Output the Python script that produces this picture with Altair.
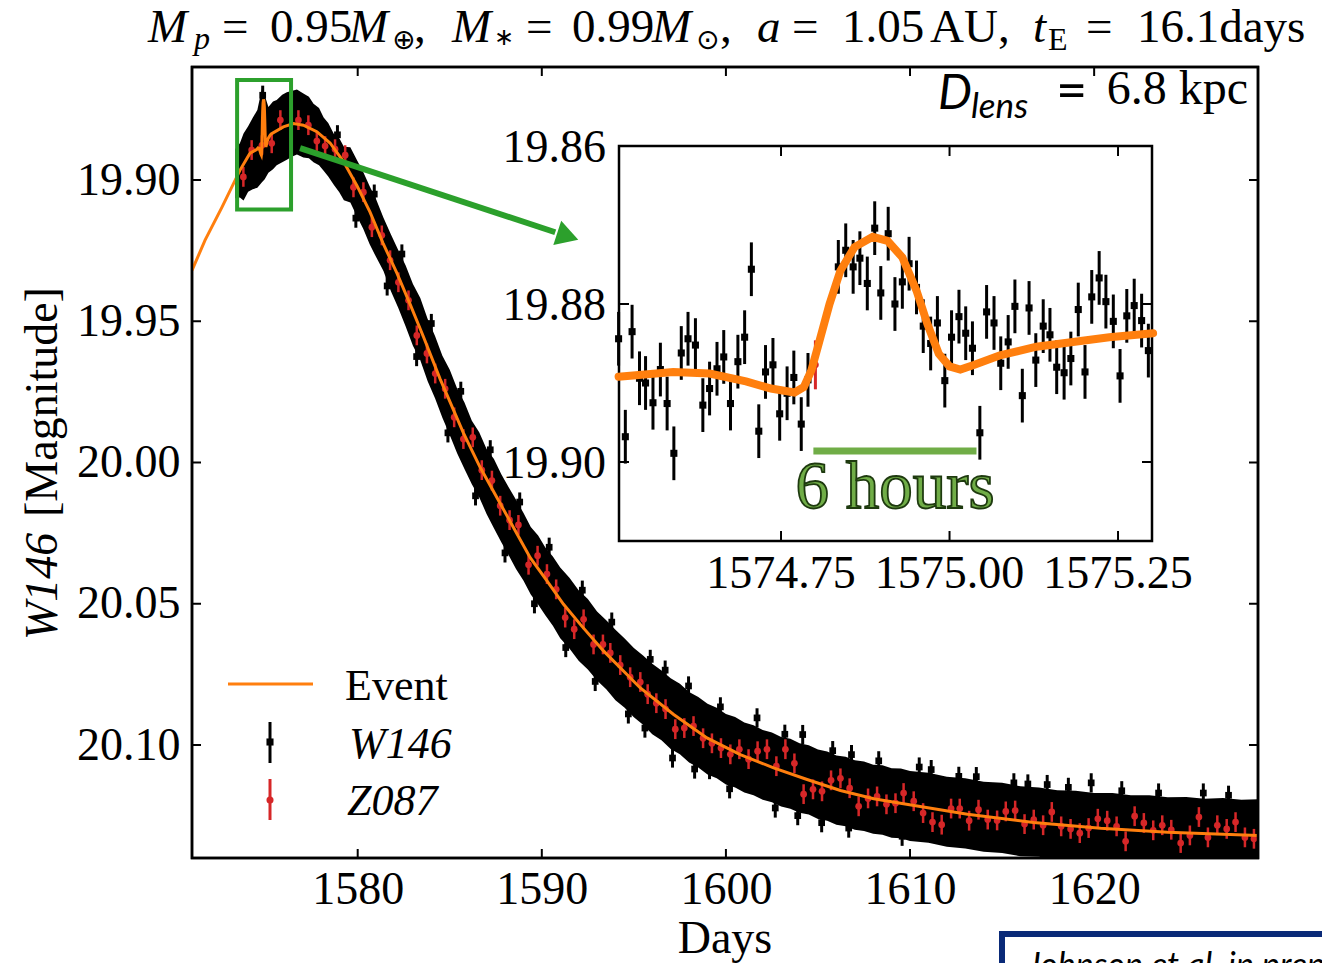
import altair as alt
import pandas as pd

# ---------------- values ----------------
# model light curve ("Event")
model_day = [1571.00, 1571.71, 1572.63, 1573.61, 1574.15,
             1574.509, 1574.590, 1574.644, 1574.698, 1574.735, 1574.770, 1574.784, 1574.795, 1574.806,
             1574.822, 1574.838, 1574.859, 1574.886, 1574.908, 1574.930, 1574.951, 1574.967, 1574.984,
             1575.000, 1575.016, 1575.037, 1575.075, 1575.129, 1575.183, 1575.237, 1575.302,
             1575.96, 1576.51, 1577.05, 1577.78, 1578.50, 1579.22, 1579.96, 1580.67, 1581.38, 1582.13,
             1582.85, 1583.57, 1584.48, 1585.74, 1586.65, 1587.56, 1588.46, 1589.37, 1590.28, 1591.18,
             1592.09, 1593.35, 1595.35, 1597.16, 1598.97, 1600.78, 1602.59, 1604.41, 1606.22, 1608.03,
             1609.48, 1613.12, 1616.71, 1620.35, 1623.99, 1628.93]
model_mag = [19.9320, 19.9213, 19.9096, 19.8965, 19.8905,
             19.8892, 19.8886, 19.8888, 19.8898, 19.8907, 19.8912, 19.8905, 19.8884, 19.8850,
             19.8800, 19.8758, 19.8728, 19.8715, 19.8720, 19.8741, 19.8783, 19.8825, 19.8863,
             19.8879, 19.8883, 19.8877, 19.8865, 19.8854, 19.8848, 19.8842, 19.8837,
             19.8812, 19.8800, 19.8806, 19.8829, 19.8869, 19.8934, 19.9020, 19.9114, 19.9224, 19.9330,
             19.9440, 19.9555, 19.9705, 19.9895, 20.0017, 20.0124, 20.0230, 20.0337, 20.0419, 20.0502,
             20.0573, 20.0667, 20.0798, 20.0892, 20.0975, 20.1034, 20.1081, 20.1122, 20.1161, 20.1190,
             20.1206, 20.1245, 20.1274, 20.1295, 20.1309, 20.1320]

# W146: outline of the dense band of points (top and bottom edge, magnitudes)
band_day = [1573.35, 1573.6, 1573.8, 1574.05, 1574.3, 1574.55, 1574.8, 1574.95, 1575.15, 1575.4,
            1575.6, 1575.9, 1576.15, 1576.45, 1576.7, 1577.05, 1577.35, 1577.6, 1577.9, 1578.15,
            1578.4, 1578.7, 1579.0, 1579.25, 1579.6, 1579.95, 1580.3, 1580.65, 1581.0, 1581.4,
            1581.8, 1582.2, 1582.6, 1583.0, 1583.4, 1583.8, 1584.2, 1584.6, 1585.0, 1585.4,
            1585.8, 1586.2, 1586.6, 1587.0, 1587.4, 1587.8, 1588.2, 1588.6, 1589.0, 1589.4,
            1589.8, 1590.2, 1590.6, 1591.0, 1591.5, 1592.0, 1592.5, 1593.0, 1593.5, 1594.0,
            1594.5, 1595.0, 1595.5, 1596.0, 1596.5, 1597.0, 1597.5, 1598.0, 1598.5, 1599.0,
            1599.5, 1600.0, 1600.5, 1601.0, 1601.5, 1602.0, 1602.5, 1603.0, 1603.5, 1604.0,
            1604.5, 1605.0, 1605.5, 1606.0, 1606.5, 1607.0, 1607.5, 1608.0, 1608.5, 1609.0,
            1609.5, 1610.0, 1611.0, 1612.0, 1613.0, 1614.0, 1615.0, 1616.0, 1617.0, 1618.0,
            1619.0, 1620.0, 1621.0, 1622.0, 1623.0, 1624.0, 1625.0, 1626.0, 1627.0, 1628.0, 1629.0]
band_top = [19.8890, 19.8870, 19.8835, 19.8810, 19.8780, 19.8752, 19.8675, 19.8700, 19.8742, 19.8722,
            19.8717, 19.8698, 19.8689, 19.8684, 19.8680, 19.8694, 19.8705, 19.8730, 19.8745, 19.8779,
            19.8798, 19.8836, 19.8852, 19.8882, 19.8884, 19.8928, 19.8972, 19.9022, 19.9068, 19.9134,
            19.9192, 19.9248, 19.9302, 19.9368, 19.9418, 19.9492, 19.9552, 19.9622, 19.9672, 19.9738,
            19.9788, 19.9852, 19.9893, 19.9952, 19.9988, 20.0042, 20.0088, 20.0132, 20.0178, 20.0228,
            20.0258, 20.0302, 20.0333, 20.0372, 20.0408, 20.0452, 20.0483, 20.0527, 20.0558, 20.0592,
            20.0623, 20.0657, 20.0683, 20.0712, 20.0736, 20.0764, 20.0783, 20.0812, 20.0830, 20.0854,
            20.0868, 20.0890, 20.0901, 20.0920, 20.0930, 20.0947, 20.0956, 20.0972, 20.0978, 20.0994,
            20.1001, 20.1016, 20.1023, 20.1037, 20.1042, 20.1054, 20.1058, 20.1070, 20.1072, 20.1082,
            20.1083, 20.1092, 20.1098, 20.1112, 20.1118, 20.1130, 20.1134, 20.1146, 20.1150, 20.1160,
            20.1162, 20.1170, 20.1170, 20.1178, 20.1178, 20.1185, 20.1184, 20.1190, 20.1188, 20.1194, 20.1192]
band_bot = [19.9065, 19.9062, 19.9073, 19.9042, 19.9033, 19.9027, 19.9008, 19.8997, 19.8974, 19.8962,
            19.8948, 19.8937, 19.8928, 19.8917, 19.8910, 19.8920, 19.8923, 19.8937, 19.8948, 19.8967,
            19.8988, 19.9017, 19.9043, 19.9072, 19.9080, 19.9127, 19.9173, 19.9227, 19.9273, 19.9322,
            19.9393, 19.9452, 19.9518, 19.9587, 19.9638, 19.9712, 19.9773, 19.9842, 19.9903, 19.9967,
            20.0023, 20.0077, 20.0123, 20.0182, 20.0233, 20.0282, 20.0328, 20.0377, 20.0418, 20.0467,
            20.0503, 20.0542, 20.0578, 20.0622, 20.0658, 20.0702, 20.0733, 20.0772, 20.0803, 20.0842,
            20.0868, 20.0902, 20.0928, 20.0962, 20.0983, 20.1014, 20.1033, 20.1062, 20.1080, 20.1104,
            20.1118, 20.1140, 20.1150, 20.1168, 20.1178, 20.1194, 20.1203, 20.1218, 20.1226, 20.1240,
            20.1246, 20.1262, 20.1268, 20.1282, 20.1288, 20.1300, 20.1304, 20.1314, 20.1318, 20.1328,
            20.1330, 20.1340, 20.1346, 20.1360, 20.1366, 20.1378, 20.1382, 20.1394, 20.1396, 20.1406,
            20.1408, 20.1416, 20.1418, 20.1426, 20.1426, 20.1432, 20.1430, 20.1436, 20.1434, 20.1440, 20.1440]

# W146 points standing out at the edges of the band
w146_day = [1574.84, 1595.89, 1597.10, 1597.97, 1599.11, 1601.69, 1602.68, 1604.17, 1606.67,
            1606.82, 1609.57, 1611.15, 1612.65, 1615.64, 1617.45, 1619.84, 1625.93,
            1578.9, 1580.9, 1582.4, 1584.0, 1585.6, 1587.2, 1588.8, 1590.4, 1592.2, 1593.8,
            1596.7, 1599.7, 1603.2, 1605.8, 1608.3, 1610.5, 1613.6, 1616.4, 1618.6, 1621.5,
            1623.5, 1627.3,
            1579.9, 1581.6, 1583.2, 1584.9, 1586.4, 1588.0, 1589.6, 1591.3, 1592.9, 1594.7,
            1595.6, 1598.3, 1600.2, 1603.9, 1605.2]
w146_mag = [19.8700, 20.0697, 20.1046, 20.0791, 20.1087, 20.0904, 20.1223, 20.0963, 20.1294,
            20.1034, 20.1323, 20.1087, 20.1111, 20.1134, 20.1140, 20.1134, 20.1170,
            19.8840, 19.9050, 19.9262, 19.9508, 19.9748, 19.9955, 20.0140, 20.0300, 20.0452, 20.0565,
            20.0735, 20.0865, 20.0962, 20.1020, 20.1056, 20.1078, 20.1112, 20.1138, 20.1150, 20.1162,
            20.1170, 20.1178,
            19.9135, 19.9375, 19.9625, 19.9895, 20.0118, 20.0320, 20.0500, 20.0655, 20.0775, 20.0890,
            20.0940, 20.1085, 20.1155, 20.1250, 20.1275]
w146_err = 0.0034

# Z087 points
z087_day = [1573.79, 1574.24, 1574.80, 1575.33, 1575.80, 1576.78, 1577.32, 1577.78, 1578.23, 1578.77,
            1579.32, 1579.77, 1580.31, 1580.77, 1581.31, 1581.76, 1582.21, 1582.76, 1583.21, 1583.76,
            1584.21, 1584.75, 1585.24, 1585.74, 1586.25, 1586.74, 1587.29, 1587.74, 1588.25, 1588.73,
            1589.28, 1589.77, 1590.28, 1590.78, 1591.27, 1591.76, 1592.27, 1592.81, 1593.32, 1593.72,
            1594.26, 1594.80, 1595.35, 1595.75, 1596.22, 1596.72, 1597.25, 1597.74, 1598.24, 1598.76,
            1599.24, 1599.73, 1600.24, 1600.73, 1601.23, 1601.72, 1602.23, 1602.74, 1603.23, 1603.72,
            1604.22, 1604.73, 1605.22, 1605.71, 1606.22, 1606.72, 1607.21, 1607.72, 1608.21, 1608.72,
            1609.21, 1609.65, 1610.20, 1610.71, 1611.22, 1611.72, 1612.23, 1612.70, 1613.21, 1613.72,
            1614.22, 1614.73, 1615.20, 1615.71, 1616.22, 1616.72, 1617.23, 1617.70, 1618.21, 1618.72,
            1619.22, 1619.70, 1620.20, 1620.71, 1621.22, 1621.71, 1622.20, 1622.70, 1623.21, 1623.70,
            1624.19, 1624.70, 1625.20, 1625.69, 1626.18, 1626.69, 1627.20, 1627.68, 1628.19, 1628.68]
z087_mag = [19.8989, 19.8894, 19.8877, 19.8870, 19.8788, 19.8788, 19.8806, 19.8862, 19.8880, 19.8891,
            19.8912, 19.9026, 19.9043, 19.9167, 19.9196, 19.9284, 19.9362, 19.9426, 19.9550, 19.9614,
            19.9685, 19.9739, 19.9840, 19.9917, 19.9911, 20.0027, 20.0064, 20.0153, 20.0204, 20.0221,
            20.0362, 20.0330, 20.0395, 20.0449, 20.0549, 20.0590, 20.0555, 20.0644, 20.0644, 20.0674,
            20.0717, 20.0760, 20.0777, 20.0820, 20.0852, 20.0873, 20.0944, 20.0940, 20.0933, 20.0976,
            20.0994, 20.1011, 20.1033, 20.1015, 20.1050, 20.1022, 20.1015, 20.1075, 20.1015, 20.1065,
            20.1174, 20.1157, 20.1164, 20.1125, 20.1118, 20.1153, 20.1217, 20.1189, 20.1182, 20.1210,
            20.1206, 20.1170, 20.1199, 20.1241, 20.1273, 20.1282, 20.1225, 20.1225, 20.1268, 20.1229,
            20.1264, 20.1267, 20.1235, 20.1232, 20.1280, 20.1264, 20.1284, 20.1237, 20.1288, 20.1297,
            20.1312, 20.1294, 20.1261, 20.1268, 20.1288, 20.1341, 20.1252, 20.1276, 20.1302, 20.1284,
            20.1300, 20.1347, 20.1320, 20.1255, 20.1327, 20.1284, 20.1297, 20.1273, 20.1327, 20.1332]
z087_err = 0.0035

# inset: W146 points around the planetary anomaly
inset_w_day = [1574.509, 1574.519, 1574.529, 1574.540, 1574.549, 1574.560, 1574.571, 1574.581, 1574.591, 1574.602,
               1574.612, 1574.623, 1574.634, 1574.644, 1574.655, 1574.665, 1574.675, 1574.686, 1574.696, 1574.706,
               1574.717, 1574.727, 1574.738, 1574.748, 1574.759, 1574.769, 1574.780, 1574.790, 1574.835, 1574.846,
               1574.857, 1574.867, 1574.878, 1574.889, 1574.898, 1574.909, 1574.919, 1574.930, 1574.940, 1574.951,
               1574.961, 1574.972, 1574.982, 1574.993, 1575.003, 1575.014, 1575.024, 1575.034, 1575.045, 1575.055,
               1575.066, 1575.076, 1575.087, 1575.097, 1575.108, 1575.118, 1575.128, 1575.139, 1575.149, 1575.159,
               1575.170, 1575.180, 1575.191, 1575.201, 1575.211, 1575.222, 1575.232, 1575.243, 1575.253, 1575.263,
               1575.274, 1575.285, 1575.295]
inset_w_mag = [19.8844, 19.8968, 19.8835, 19.8894, 19.8900, 19.8925, 19.8883, 19.8926, 19.8989, 19.8862,
               19.8844, 19.8852, 19.8928, 19.8907, 19.8882, 19.8867, 19.8926, 19.8873, 19.8842, 19.8756,
               19.8961, 19.8886, 19.8877, 19.8939, 19.8913, 19.8893, 19.8952, 19.8896, 19.8753, 19.8732,
               19.8753, 19.8742, 19.8774, 19.8704, 19.8786, 19.8711, 19.8800, 19.8772, 19.8749, 19.8779,
               19.8828, 19.8850, 19.8824, 19.8897, 19.8842, 19.8816, 19.8837, 19.8856, 19.8963, 19.8810,
               19.8824, 19.8875, 19.8848, 19.8803, 19.8916, 19.8805, 19.8871, 19.8828, 19.8839, 19.8880,
               19.8887, 19.8869, 19.8807, 19.8886, 19.8791, 19.8767, 19.8797, 19.8822, 19.8891, 19.8815,
               19.8802, 19.8821, 19.8859]
inset_z_day = [1574.801]
inset_z_mag = [19.8877]
inset_z_err = 0.0031

# axes ticks
x_ticks = [1580, 1590, 1600, 1610, 1620]
y_ticks = [19.90, 19.95, 20.00, 20.05, 20.10]
inset_x_ticks = [1574.75, 1575.00, 1575.25]
inset_x_labels = ["1574.75", "1575.00", "1575.25"]
inset_y_ticks = [19.86, 19.88, 19.90]
inset_y_labels = ["19.86", "19.88", "19.90"]

# annotations (data coordinates)
zoom_box = [1573.45, 1576.38, 19.8646, 19.9104]
arrow_line = [1576.87, 19.8887, 1590.73, 19.9185]
arrow_head = [1591.41, 19.9199]
six_hours_bar = [1574.798, 1575.040, 19.8986]

# ---------------- styling ----------------
SERIF = "Liberation Serif"
SANS = "Lato"
ORANGE = "#ff7f0e"
RED = "#d62728"
GREEN = "#2ca02c"
W, H = 1066, 791
IX0, IX1, IY0, IY1 = 427, 960, 79, 474

XS = alt.Scale(domain=[1571.0, 1628.9], nice=False, zero=False)
YS = alt.Scale(domain=[19.86, 20.14], nice=False, zero=False, reverse=True)
IXS = alt.Scale(domain=[1574.5096, 1575.3004], range=[IX0, IX1], nice=False, zero=False)
IYS = alt.Scale(domain=[19.86, 19.91], range=[IY0, IY1], nice=False, zero=False)

XAX = alt.Axis(values=x_ticks, format="d", ticks=False, tickSize=0, domain=False, grid=False,
               labelFont=SERIF, labelFontSize=46, labelColor="black", labelPadding=9,
               labelFlush=False, labelOverlap=False, title=None)
YAX = alt.Axis(values=y_ticks, format=".2f", ticks=False, tickSize=0, domain=False, grid=False,
               labelFont=SERIF, labelFontSize=46, labelColor="black", labelPadding=12,
               labelFlush=False, labelOverlap=False, title=None)


def XM(f):
    return alt.X(f, type="quantitative", scale=XS, axis=XAX)


def YM(f):
    return alt.Y(f, type="quantitative", scale=YS, axis=YAX)


def XI(f):
    return alt.X(f, type="quantitative", scale=IXS, axis=None)


def YI(f):
    return alt.Y(f, type="quantitative", scale=IYS, axis=None)


ONE = pd.DataFrame({"k": [0]})


def txt(s, x, y, size, font=SERIF, style="normal", align="left", baseline="alphabetic",
        color="black", angle=0, **kw):
    return alt.Chart(ONE).mark_text(text=s, font=font, fontSize=size, fontStyle=style, align=align,
                                    baseline=baseline, color=color, angle=angle, **kw).encode(
        x=alt.value(x), y=alt.value(y))


# ---------------- tables ----------------
df_model = pd.DataFrame({"day": model_day, "mag": model_mag})
df_band = pd.DataFrame({"day": band_day, "top": band_top, "bot": band_bot})
df_w = pd.DataFrame({"day": w146_day, "mag": w146_mag})
df_w["lo"] = df_w["mag"] - w146_err
df_w["hi"] = df_w["mag"] + w146_err
df_z = pd.DataFrame({"day": z087_day, "mag": z087_mag})
df_z["lo"] = df_z["mag"] - z087_err
df_z["hi"] = df_z["mag"] + z087_err
df_iw = pd.DataFrame({"day": inset_w_day, "mag": inset_w_mag})
df_iw["lo"] = df_iw["mag"] - w146_err
df_iw["hi"] = df_iw["mag"] + w146_err
df_iz = pd.DataFrame({"day": inset_z_day, "mag": inset_z_mag})
df_iz["lo"] = df_iz["mag"] - inset_z_err
df_iz["hi"] = df_iz["mag"] + inset_z_err
df_imodel = df_model[(df_model["day"] >= 1574.50) & (df_model["day"] <= 1575.31)]
df_xt = pd.DataFrame({"t": x_ticks})
df_yt = pd.DataFrame({"t": y_ticks})
df_ixt = pd.DataFrame({"t": inset_x_ticks, "lab": inset_x_labels})
df_iyt = pd.DataFrame({"t": inset_y_ticks, "lab": inset_y_labels})
df_box = pd.DataFrame({"x1": [zoom_box[0]], "x2": [zoom_box[1]], "y1": [zoom_box[2]], "y2": [zoom_box[3]]})
df_arrow = pd.DataFrame({"x1": [arrow_line[0]], "y1": [arrow_line[1]], "x2": [arrow_line[2]], "y2": [arrow_line[3]]})
df_head = pd.DataFrame({"x": [arrow_head[0]], "y": [arrow_head[1]]})
df_bar = pd.DataFrame({"x1": [six_hours_bar[0]], "x2": [six_hours_bar[1]], "y": [six_hours_bar[2]]})

# ---------------- main panel ----------------
band = alt.Chart(df_band).mark_area(color="black", opacity=1, clip=True).encode(
    x=XM("day"), y=YM("top"), y2=alt.Y2("bot"))
w_bars = alt.Chart(df_w).mark_rule(color="black", strokeWidth=3, clip=True).encode(
    x=XM("day"), y=YM("lo"), y2=alt.Y2("hi"))
w_pts = alt.Chart(df_w).mark_square(color="black", size=45, opacity=1, clip=True).encode(
    x=XM("day"), y=YM("mag"))
z_bars = alt.Chart(df_z).mark_rule(color=RED, strokeWidth=2.5, clip=True).encode(
    x=XM("day"), y=YM("lo"), y2=alt.Y2("hi"))
z_pts = alt.Chart(df_z).mark_circle(color=RED, size=45, opacity=1, clip=True).encode(
    x=XM("day"), y=YM("mag"))
model = alt.Chart(df_model).mark_line(color=ORANGE, strokeWidth=3, clip=True).encode(
    x=XM("day"), y=YM("mag"))

xt_bot = alt.Chart(df_xt).mark_rule(color="black", strokeWidth=2).encode(
    x=XM("t"), y=alt.value(H), y2=alt.value(H - 9))
xt_top = alt.Chart(df_xt).mark_rule(color="black", strokeWidth=2).encode(
    x=XM("t"), y=alt.value(0), y2=alt.value(9))
yt_left = alt.Chart(df_yt).mark_rule(color="black", strokeWidth=2).encode(
    y=YM("t"), x=alt.value(0), x2=alt.value(9))
yt_right = alt.Chart(df_yt).mark_rule(color="black", strokeWidth=2).encode(
    y=YM("t"), x=alt.value(W), x2=alt.value(W - 9))

box = alt.Chart(df_box).mark_rect(fillOpacity=0, stroke=GREEN, strokeWidth=4).encode(
    x=XM("x1"), x2=alt.X2("x2"), y=YM("y1"), y2=alt.Y2("y2"))
arrow = alt.Chart(df_arrow).mark_rule(color=GREEN, strokeWidth=6).encode(
    x=XM("x1"), x2=alt.X2("x2"), y=YM("y1"), y2=alt.Y2("y2"))
head = alt.Chart(df_head).mark_point(shape="triangle-right", filled=True, size=650, angle=18,
                                     color=GREEN, opacity=1).encode(x=XM("x"), y=YM("y"))

# plot frame
frame = alt.Chart(ONE).mark_rect(fillOpacity=0, stroke="black", strokeWidth=2.5).encode(
    x=alt.value(0), x2=alt.value(W), y=alt.value(0), y2=alt.value(H))

# legend
leg_line = alt.Chart(ONE).mark_rule(color=ORANGE, strokeWidth=3).encode(
    x=alt.value(36), x2=alt.value(121), y=alt.value(617))
leg_wbar = alt.Chart(ONE).mark_rule(color="black", strokeWidth=3).encode(
    x=alt.value(78), y=alt.value(655), y2=alt.value(696))
leg_wpt = alt.Chart(ONE).mark_square(color="black", size=50, opacity=1).encode(
    x=alt.value(78), y=alt.value(675))
leg_zbar = alt.Chart(ONE).mark_rule(color=RED, strokeWidth=3).encode(
    x=alt.value(78), y=alt.value(712), y2=alt.value(753))
leg_zpt = alt.Chart(ONE).mark_circle(color=RED, size=50, opacity=1).encode(
    x=alt.value(78), y=alt.value(733))
leg_texts = [
    txt("Event", 153, 633, 44),
    txt("W146", 157, 691, 44, style="italic"),
    txt("Z087", 155, 748, 44, style="italic"),
]

# title pieces (positions in pixels relative to the plot area)
TB = -25
title_parts = [
    txt("M", -44, TB, 47, style="italic"),
    txt("p", 2, TB + 7, 32, style="italic"),
    txt("=", 30, TB, 47),
    txt("0.95", 78, TB, 47),
    txt("M", 157, TB, 47, style="italic"),
    txt("\u2295", 200, TB + 7, 28, font="DejaVu Sans"),
    txt(",", 222, TB, 47),
    txt("M", 260, TB, 47, style="italic"),
    txt("\u2217", 302, TB + 3, 24, font="DejaVu Sans"),
    txt("=", 334, TB, 47),
    txt("0.99", 380, TB, 47),
    txt("M", 460, TB, 47, style="italic"),
    txt("\u2299", 504, TB + 7, 28, font="DejaVu Sans"),
    txt(",", 528, TB, 47),
    txt("a", 565, TB, 47, style="italic"),
    txt("=", 600, TB, 47),
    txt("1.05", 650, TB, 47),
    txt("AU,", 738, TB, 47),
    txt("t", 841, TB, 47, style="italic"),
    txt("E", 856, TB + 8, 32),
    txt("=", 894, TB, 47),
    txt("16.1days", 945, TB, 47),
]

dlens_parts = [
    txt("D", 746, 42, 48, font=SANS, style="italic"),
    txt("lens", 779, 51, 35, font=SANS, style="italic"),
    txt("=", 864, 42, 54, font=SANS),
    txt("6.8 kpc", 1056, 37, 48, align="right"),
]

axis_titles = [
    txt("Days", W / 2, 886, 46, align="center"),
    txt("W146", -135, 573, 46, style="italic", angle=270),
    txt("[Magnitude]", -135, 450, 46, angle=270),
]

johnson_box = alt.Chart(ONE).mark_rect(fill="white", stroke="#0a2a78", strokeWidth=6).encode(
    x=alt.value(810), x2=alt.value(1160), y=alt.value(867), y2=alt.value(960))
johnson_txt = txt("Johnson et al. in prep", 835, 910, 34, font=SANS, style="italic")

main = alt.layer(
    band, w_bars, w_pts, z_bars, z_pts, model,
    xt_bot, xt_top, yt_left, yt_right, frame,
    box, arrow, head,
    leg_line, leg_wbar, leg_wpt, leg_zbar, leg_zpt, *leg_texts,
    *title_parts, *dlens_parts, *axis_titles, johnson_box, johnson_txt,
)

# ---------------- inset ----------------
inset_frame = alt.Chart(ONE).mark_rect(fill="white", stroke="black", strokeWidth=2.5).encode(
    x=alt.value(IX0), x2=alt.value(IX1), y=alt.value(IY0), y2=alt.value(IY1))
iw_bars = alt.Chart(df_iw).mark_rule(color="black", strokeWidth=3).encode(
    x=XI("day"), y=YI("lo"), y2=alt.Y2("hi"))
iw_pts = alt.Chart(df_iw).mark_square(color="black", size=50, opacity=1).encode(
    x=XI("day"), y=YI("mag"))
iz_bars = alt.Chart(df_iz).mark_rule(color=RED, strokeWidth=3).encode(
    x=XI("day"), y=YI("lo"), y2=alt.Y2("hi"))
iz_pts = alt.Chart(df_iz).mark_circle(color=RED, size=45, opacity=1).encode(
    x=XI("day"), y=YI("mag"))
imodel = alt.Chart(df_imodel).mark_line(color=ORANGE, strokeWidth=8, strokeCap="round").encode(
    x=XI("day"), y=YI("mag"))
ibar = alt.Chart(df_bar).mark_rule(color="#70ad47", strokeWidth=7).encode(
    x=XI("x1"), x2=alt.X2("x2"), y=YI("y"))
six = txt("6 hours", 703, 441, 67, color="#70ad47", align="center",
          stroke="#1e3a0f", strokeWidth=1.8)
ixt_bot = alt.Chart(df_ixt).mark_rule(color="black", strokeWidth=2).encode(
    x=XI("t"), y=alt.value(IY1), y2=alt.value(IY1 - 10))
ixt_top = alt.Chart(df_ixt).mark_rule(color="black", strokeWidth=2).encode(
    x=XI("t"), y=alt.value(IY0), y2=alt.value(IY0 + 10))
iyt_left = alt.Chart(df_iyt).mark_rule(color="black", strokeWidth=2).encode(
    y=YI("t"), x=alt.value(IX0), x2=alt.value(IX0 + 10))
iyt_right = alt.Chart(df_iyt).mark_rule(color="black", strokeWidth=2).encode(
    y=YI("t"), x=alt.value(IX1), x2=alt.value(IX1 - 10))
ix_lab = alt.Chart(df_ixt).mark_text(font=SERIF, fontSize=46, align="center", baseline="alphabetic",
                                     color="black").encode(x=XI("t"), y=alt.value(521), text="lab:N")
iy_lab = alt.Chart(df_iyt).mark_text(font=SERIF, fontSize=46, align="right", baseline="middle",
                                     color="black", dy=2).encode(y=YI("t"), x=alt.value(IX0 - 13), text="lab:N")

inset = alt.layer(
    inset_frame, iw_bars, iw_pts, iz_bars, iz_pts, imodel, ibar, six,
    ixt_bot, ixt_top, iyt_left, iyt_right, ix_lab, iy_lab,
)

chart = alt.layer(main, inset).resolve_scale(x="independent", y="independent").properties(
    width=W, height=H,
    autosize=alt.AutoSizeParams(type="none"),
    padding={"left": 192, "top": 67, "right": 64, "bottom": 105},
    background="white",
).configure_view(stroke="black", strokeWidth=2.5)

chart.save("out.html", embed_options={"renderer": "svg", "actions": False})
